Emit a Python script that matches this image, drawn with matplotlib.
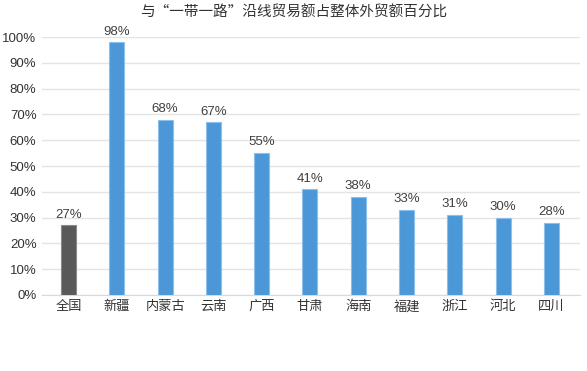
import matplotlib
matplotlib.use("Agg")
import matplotlib.pyplot as plt
from matplotlib.ticker import FuncFormatter, MultipleLocator

plt.rcParams['font.family'] = ['Liberation Sans', 'Noto Sans CJK SC', 'DejaVu Sans']

categories = ["全国", "新疆", "内蒙古", "云南", "广西", "甘肃", "海南", "福建", "浙江", "河北", "四川"]
values = [27, 98, 68, 67, 55, 41, 38, 33, 31, 30, 28]
title = "与“一带一路”沿线贸易额占整体外贸额百分比"

colors = ["#595959"] + ["#4b97d8"] * (len(values) - 1)
edges = ["#8a8a8a"] + ["#8cc0ea"] * (len(values) - 1)

fig = plt.figure(figsize=(5.87, 3.71), dpi=100)
ax = fig.add_axes([0.0716, 0.205, 0.917, 0.695])

x = list(range(len(categories)))
ax.bar(x, values, width=0.31, color=colors, edgecolor=edges, linewidth=0.8, zorder=3)
for xi, v in zip(x, values):
    ax.text(xi, v + 1.8, f"{v}%", ha="center", va="bottom", fontsize=9.5, color="#404040")

ax.set_ylim(0, 100)
ax.set_xlim(-0.55, len(categories) - 0.4)
ax.yaxis.set_major_locator(MultipleLocator(10))
ax.yaxis.set_major_formatter(FuncFormatter(lambda v, p: f"{int(v)}%"))
ax.grid(axis="y", color="#e4e4e4", linewidth=1.0, zorder=0)
ax.set_xticks(x)
ax.set_xticklabels(categories)
ax.tick_params(axis="both", length=0, labelsize=9.5, colors="#333333", pad=4)
for s in ["top", "right", "left"]:
    ax.spines[s].set_visible(False)
ax.spines["bottom"].set_color("#d9d9d9")
ax.set_axisbelow(True)

fig.text(0.5, 0.965, title, ha="center", va="center", fontsize=10.5, color="#333333",
         family=['Noto Sans CJK SC', 'DejaVu Sans'])

fig.savefig("out.png", dpi=100, facecolor="white")
